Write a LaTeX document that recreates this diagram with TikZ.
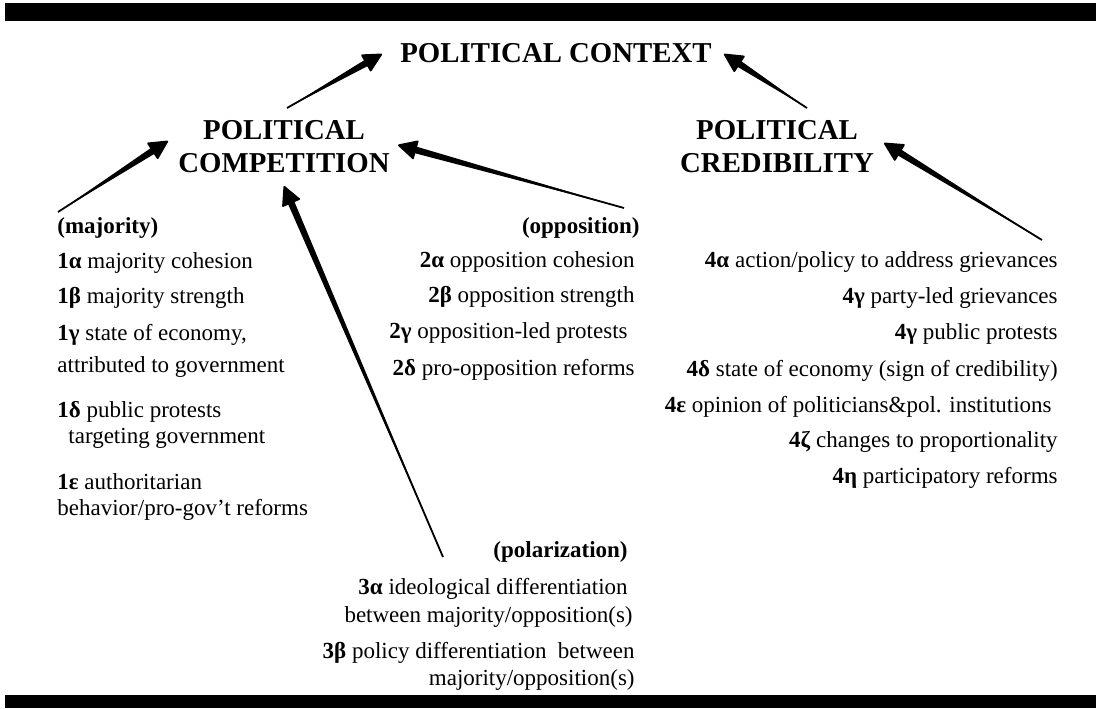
\documentclass[tikz,border=0pt]{standalone}
\usepackage{fontspec}
\setmainfont{Liberation Serif}
\usetikzlibrary{arrows.meta,calc}

% arrow whose shaft widens from the tail towards the head
\newcommand{\taperarrow}[2]{%
  \coordinate (taper-base) at ($(#2)!9pt!(#1)$);
  \fill (#1) -- ($(taper-base)!1.7pt!90:(#1)$) -- ($(taper-base)!1.7pt!-90:(#1)$) -- cycle;
  \draw[arrow] (#1) -- (#2);
}

\begin{document}
\begin{tikzpicture}[
x=0.5pt, y=-0.5pt,
head/.style={font=\bfseries\fontsize{14.4}{16.5}\selectfont, align=center, inner sep=0pt},
item/.style={font=\fontsize{11.5}{14}\selectfont, inner sep=0pt},
arrow/.style={line width=0.9pt, -{Triangle[length=10pt, width=10pt, round]}}
]
\useasboundingbox (0,0) rectangle (1096,708);
% rules at top and bottom
\fill (5,3) rectangle (1096,21);
\fill (5,695) rectangle (1096,708);

% headings
\node[head, anchor=base] (context) at (556,62) {POLITICAL CONTEXT};
\node[head] (competition) at (284,147) {POLITICAL\\COMPETITION};
\node[head] (credibility) at (777,147) {POLITICAL\\CREDIBILITY};

% majority
\node[item, anchor=base west] (maj) at (57,233) {\textbf{(majority)}};
\node[item, anchor=base west] (m1) at (57,268) {\textbf{1α} majority cohesion};
\node[item, anchor=base west] (m2) at (57,303) {\textbf{1β} majority strength};
\node[item, anchor=base west] (m3) at (57,340) {\textbf{1γ} state of economy,};
\node[item, anchor=base west] (m3b) at (57,372) {attributed to government};
\node[item, anchor=base west] (m4) at (57,417) {\textbf{1δ} public protests};
\node[item, anchor=base west] (m4b) at (68,443) {targeting government};
\node[item, anchor=base west] (m5) at (57,489) {\textbf{1ε} authoritarian};
\node[item, anchor=base west] (m5b) at (57,515) {behavior/pro-gov’t reforms};

% opposition
\node[item, anchor=base east] (opp) at (640,233) {\textbf{(opposition)}};
\node[item, anchor=base east] (o1) at (635,267) {\textbf{2α} opposition cohesion};
\node[item, anchor=base east] (o2) at (635,302) {\textbf{2β} opposition strength};
\node[item, anchor=base east] (o3) at (628,338) {\textbf{2γ} opposition-led protests};
\node[item, anchor=base east] (o4) at (635,375) {\textbf{2δ} pro-opposition reforms};

% polarization
\node[item, anchor=base east] (pol) at (628,557) {\textbf{(polarization)}};
\node[item, anchor=base east] (p1) at (628,594) {\textbf{3α} ideological differentiation};
\node[item, anchor=base east] (p1b) at (633,622) {between majority/opposition(s)};
\node[item, anchor=base east] (p2) at (635,658) {\textbf{3β} policy differentiation\ \ between};
\node[item, anchor=base east] (p2b) at (635,685) {majority/opposition(s)};

% credibility
\node[item, anchor=base east] (c1) at (1058,267) {\textbf{4α} action/policy to address grievances};
\node[item, anchor=base east] (c2) at (1058,303) {\textbf{4γ} party-led grievances};
\node[item, anchor=base east] (c3) at (1058,339) {\textbf{4γ} public protests};
\node[item, anchor=base east] (c4) at (1058,376) {\textbf{4δ} state of economy (sign of credibility)};
\node[item, anchor=base east] (c5) at (1052,412) {\textbf{4ε} opinion of politicians\&pol. institutions};
\node[item, anchor=base east] (c6) at (1058,447) {\textbf{4ζ} changes to proportionality};
\node[item, anchor=base east] (c7) at (1058,483) {\textbf{4η} participatory reforms};

% arrow ends
\coordinate (comp-out) at (287,108);
\coordinate (ctx-in-l) at (382,54);
\coordinate (cred-out) at (807,108);
\coordinate (ctx-in-r) at (724,54);
\coordinate (maj-out) at (58,212);
\coordinate (comp-in-l) at (168,141);
\coordinate (opp-out) at (624,208);
\coordinate (comp-in-r) at (398,145);
\coordinate (pol-out) at (443,557);
\coordinate (comp-in-b) at (284,186);
\coordinate (cred-src) at (1042,240);
\coordinate (cred-in) at (884,143);

\taperarrow{comp-out}{ctx-in-l}
\taperarrow{cred-out}{ctx-in-r}
\taperarrow{maj-out}{comp-in-l}
\taperarrow{opp-out}{comp-in-r}
\taperarrow{pol-out}{comp-in-b}
\taperarrow{cred-src}{cred-in}
\end{tikzpicture}
\end{document}
